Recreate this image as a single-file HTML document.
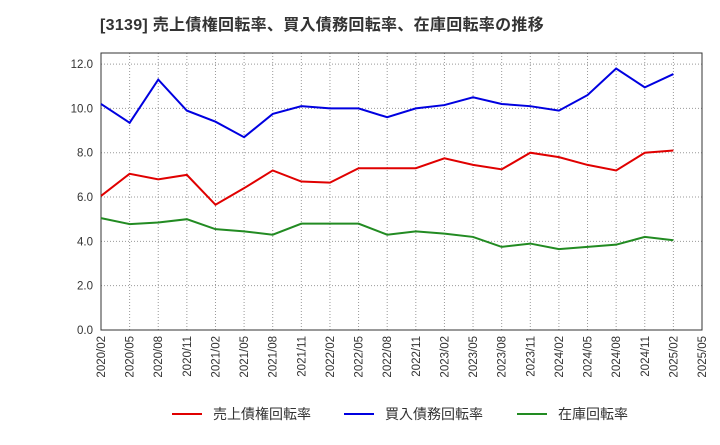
<!DOCTYPE html>
<html><head><meta charset="utf-8"><style>
body{margin:0;background:#fff;width:720px;height:440px;overflow:hidden;font-family:"Liberation Sans","Noto Sans CJK JP",sans-serif;}
</style></head><body>
<svg id="chart" width="720" height="440" xmlns="http://www.w3.org/2000/svg">
<text x="100" y="30" font-size="16" font-weight="bold" fill="#333" letter-spacing="0.3" font-family="Liberation Sans, Noto Sans CJK JP, sans-serif">[3139]  売上債権回転率、買入債務回転率、在庫回転率の推移</text>
<g id="grid"></g><g id="axes"></g><g id="series"></g><g id="legend"></g>
</svg>
<script>
const categories=["2020/02","2020/05","2020/08","2020/11","2021/02","2021/05","2021/08","2021/11","2022/02","2022/05","2022/08","2022/11","2023/02","2023/05","2023/08","2023/11","2024/02","2024/05","2024/08","2024/11","2025/02","2025/05"];
const yTicks=[0,2,4,6,8,10,12];
const receivables=[6.05,7.05,6.8,7.0,5.65,6.4,7.2,6.7,6.65,7.3,7.3,7.3,7.75,7.45,7.25,8.0,7.8,7.45,7.2,8.0,8.1];
const payables=[10.2,9.35,11.3,9.9,9.4,8.7,9.75,10.1,10.0,10.0,9.6,10.0,10.15,10.5,10.2,10.1,9.9,10.6,11.8,10.95,11.55];
const inventory=[5.05,4.78,4.85,5.0,4.55,4.45,4.3,4.8,4.8,4.8,4.3,4.45,4.35,4.2,3.75,3.9,3.65,3.75,3.85,4.2,4.05];
const seriesNames=["売上債権回転率","買入債務回転率","在庫回転率"];
const L=101,R=702,T=53,B=330,yMax=12.5;
const NS="http://www.w3.org/2000/svg";
const x=i=>L+i*(R-L)/(categories.length-1);
const y=v=>B-v/yMax*(B-T);
function mk(tag,attrs,parent){const e=document.createElementNS(NS,tag);for(const k in attrs)e.setAttribute(k,attrs[k]);document.getElementById(parent).appendChild(e);return e;}
const grid=mk("rect",{x:L,y:T,width:R-L,height:B-T,fill:"none",stroke:"#333"},"axes");


yTicks.forEach(v=>{
 const g=mk("line",{x1:L,x2:R,y1:y(v),y2:y(v),stroke:"#999","stroke-dasharray":"1,2"},"grid");
 
 
 const t=mk("text",{x:L-8,y:y(v)+4,"text-anchor":"end","font-size":"11.5",fill:"#333"},"axes");
 t.textContent=v.toFixed(1);
 
 
});
categories.forEach((c,i)=>{
 const g=mk("line",{x1:x(i),x2:x(i),y1:T,y2:B,stroke:"#999","stroke-dasharray":"1,2"},"grid");
 
 
 const t=mk("text",{x:0,y:0,"text-anchor":"end","font-size":"11.5",fill:"#333",transform:`translate(${x(i)+4},${B+6}) rotate(-90)`},"axes");
 t.textContent=c;
 
 
});
const colors=["#e00000","#0000e0","#228b22"];
[receivables,payables,inventory].forEach((d,si)=>{
 const p=mk("polyline",{points:d.map((v,i)=>x(i)+","+y(v)).join(" "),fill:"none",stroke:colors[si],"stroke-width":"2"},"series");
 
 
});
const lx=[172,344,517];
seriesNames.forEach((n,si)=>{
 const l=mk("line",{x1:lx[si],x2:lx[si]+30,y1:414,y2:414,stroke:colors[si],"stroke-width":"2"},"legend");
 
 
 const t=mk("text",{x:lx[si]+41,y:419,"font-size":"14",fill:"#333"},"legend");
 t.textContent=n;
 
 
});
</script>
</body></html>
